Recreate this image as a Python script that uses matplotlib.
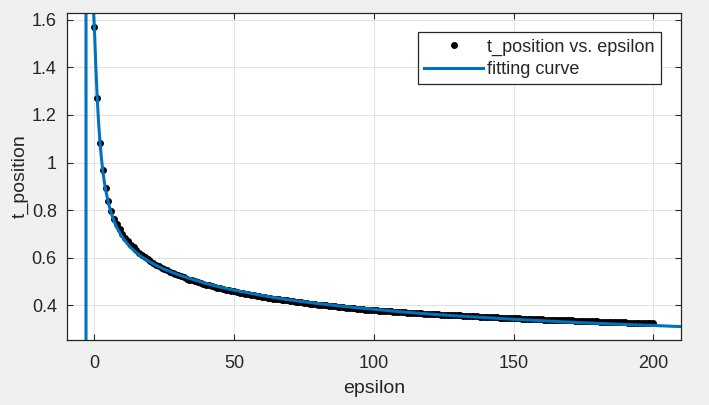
import numpy as np
import matplotlib
matplotlib.use("Agg")
import matplotlib.pyplot as plt

plt.rcParams['font.family'] = ['Liberation Sans', 'DejaVu Sans']

# measured points, epsilon = 0..200
epsilon = np.arange(0, 201)
t_position = [
    1.569, 1.271, 1.082, 0.967, 0.893, 0.837, 0.797, 0.765, 0.740, 0.719, 0.701,
    0.684, 0.669, 0.656, 0.644, 0.632, 0.622, 0.612, 0.603, 0.594, 0.586,
    0.579, 0.572, 0.565, 0.559, 0.553, 0.547, 0.542, 0.536, 0.531, 0.527,
    0.522, 0.518, 0.513, 0.509, 0.505, 0.502, 0.498, 0.494, 0.491, 0.488,
    0.484, 0.481, 0.478, 0.475, 0.472, 0.470, 0.467, 0.464, 0.462, 0.459,
    0.457, 0.454, 0.452, 0.450, 0.447, 0.445, 0.443, 0.441, 0.439, 0.437,
    0.435, 0.433, 0.431, 0.429, 0.427, 0.426, 0.424, 0.422, 0.421, 0.419,
    0.417, 0.416, 0.414, 0.413, 0.411, 0.410, 0.408, 0.407, 0.405, 0.404,
    0.403, 0.401, 0.400, 0.399, 0.397, 0.396, 0.395, 0.393, 0.392, 0.391,
    0.390, 0.389, 0.388, 0.386, 0.385, 0.384, 0.383, 0.382, 0.381, 0.380,
    0.379, 0.378, 0.377, 0.377, 0.376, 0.375, 0.374, 0.373, 0.373, 0.372,
    0.371, 0.370, 0.370, 0.369, 0.368, 0.367, 0.367, 0.366, 0.365, 0.365,
    0.364, 0.363, 0.363, 0.362, 0.361, 0.361, 0.360, 0.359, 0.359, 0.358,
    0.358, 0.357, 0.356, 0.356, 0.355, 0.355, 0.354, 0.353, 0.353, 0.352,
    0.352, 0.351, 0.351, 0.350, 0.349, 0.349, 0.348, 0.348, 0.347, 0.347,
    0.346, 0.346, 0.345, 0.345, 0.344, 0.344, 0.343, 0.343, 0.342, 0.342,
    0.341, 0.341, 0.340, 0.340, 0.339, 0.339, 0.338, 0.338, 0.338, 0.337,
    0.337, 0.336, 0.336, 0.335, 0.335, 0.334, 0.334, 0.334, 0.333, 0.333,
    0.332, 0.332, 0.332, 0.331, 0.331, 0.330, 0.330, 0.330, 0.329, 0.329,
    0.328, 0.328, 0.328, 0.327, 0.327, 0.326, 0.326, 0.326, 0.325, 0.325,
]

# fitting curve (pole near epsilon = -3)
fit_x = [-10, -3.02, -2.98, -0.6, -0.3, 0, 0.5, 1, 1.5, 2, 2.5, 3, 3.5, 4, 5, 6, 7, 8, 9,
         10, 11, 12, 13, 14, 15, 16, 18, 20, 22, 25, 28, 31, 35, 40, 45, 50, 55, 60, 65,
         70, 80, 90, 100, 110, 120, 130, 140, 150, 160, 170, 180, 190, 200, 210]
fit_y = [0.0, 0.0, 20.0, 1.72, 1.63, 1.56, 1.40, 1.27, 1.165, 1.083, 1.018, 0.965, 0.922,
         0.886, 0.830, 0.788, 0.755, 0.728, 0.706, 0.687, 0.671, 0.656, 0.643, 0.632,
         0.622, 0.612, 0.596, 0.582, 0.569, 0.552, 0.538, 0.525, 0.510, 0.492, 0.477,
         0.464, 0.453, 0.442, 0.432, 0.423, 0.408, 0.395, 0.384, 0.373, 0.364, 0.356,
         0.349, 0.342, 0.336, 0.330, 0.325, 0.320, 0.316, 0.311]

x_ticks = [0, 50, 100, 150, 200]
y_ticks = [0.4, 0.6, 0.8, 1.0, 1.2, 1.4, 1.6]
y_tick_labels = ['0.4', '0.6', '0.8', '1', '1.2', '1.4', '1.6']

axcol = '#262626'
fig = plt.figure(figsize=(7.09, 4.05), dpi=100, facecolor='#f0f0f0')
ax = fig.add_axes([0.0938, 0.1617, 0.867, 0.8055])
ax.set_facecolor('white')

ax.plot(epsilon, t_position, 'o', color='black', ms=5, mew=0, label='t_position vs. epsilon')
ax.plot(fit_x, fit_y, '-', color='#0072BD', lw=2.2, label='fitting curve')

ax.set_xlim(-10, 210)
ax.set_ylim(0.257, 1.627)
ax.set_xticks(x_ticks)
ax.set_yticks(y_ticks)
ax.set_yticklabels(y_tick_labels)
ax.grid(True, color='#e2e2e2', lw=0.7)
ax.set_axisbelow(True)
ax.tick_params(direction='in', length=4.5, width=0.8, colors=axcol, labelsize=13,
               top=True, right=True, pad=7)
ax.tick_params(axis='x', pad=11)
for s in ax.spines.values():
    s.set_color(axcol)
    s.set_linewidth(0.9)

ax.set_xlabel('epsilon', fontsize=14, color=axcol, labelpad=6)
ax.set_ylabel('t_position', fontsize=14, color=axcol, labelpad=2)

leg = ax.legend(loc='upper right', bbox_to_anchor=(0.967, 0.942), fontsize=13,
                fancybox=False, framealpha=1, edgecolor=axcol, borderaxespad=0,
                handlelength=3.3, handletextpad=0.2, labelspacing=0.3, borderpad=0.35,
                markerscale=1.0)
leg.get_frame().set_linewidth(0.9)
for t in leg.get_texts():
    t.set_color(axcol)

fig.savefig('out.png', dpi=100, facecolor=fig.get_facecolor())
